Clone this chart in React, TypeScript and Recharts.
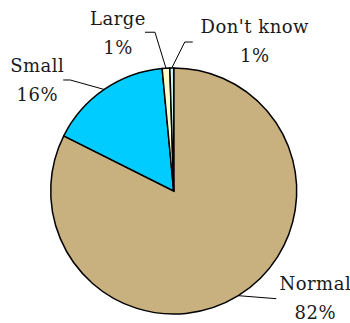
import React from "react"
import { PieChart, Pie, Cell } from "recharts"

const categories = ["Normal", "Small", "Large", "Don't know"]
const shares = [82.4, 16.1, 1.0, 0.5]
const percentLabels = ["82%", "16%", "1%", "1%"]
const colors = ["#C9B07F", "#00CCFF", "#FFFFCC", "#CCFFFF"]

// label placement relative to the slice's outer edge point (Excel-style callouts)
const labelLayout: Record<string, { elbow: [number, number]; end: [number, number]; tx: number; ty: number }> = {
  "Normal": { elbow: [38, 3], end: [38, 3], tx: 77, ty: -6 },
  "Small": { elbow: [-34, -9.5], end: [-41, -9.5], tx: -67, ty: -17.5 },
  "Large": { elbow: [-11, -36], end: [-21, -36], tx: -48, ty: -43 },
  "Don't know": { elbow: [13, -26], end: [21, -26], tx: 83, ty: -35 },
}

const data = categories.map((name, i) => ({ name, value: shares[i], pct: percentLabels[i] }))

const RADIAN = Math.PI / 180
const FONT = "DejaVu Serif"

const renderLabel = (props: any) => {
  const { cx, cy, midAngle, outerRadius, name, payload } = props
  const layout = labelLayout[name]
  if (!layout) return null
  const ex = cx + outerRadius * Math.cos(-midAngle * RADIAN)
  const ey = cy + outerRadius * Math.sin(-midAngle * RADIAN)
  const pts = [
    [ex, ey],
    [ex + layout.elbow[0], ey + layout.elbow[1]],
    [ex + layout.end[0], ey + layout.end[1]],
  ]
  const tx = ex + layout.tx
  const ty = ey + layout.ty
  return (
    <g>
      <polyline
        points={pts.map(p => p.join(",")).join(" ")}
        fill="none"
        stroke="#000"
        strokeWidth={1}
      />
      <text
        x={tx}
        y={ty}
        textAnchor="middle"
        fill="#1a1a1a"
        fontFamily={FONT}
        fontSize={18}
        letterSpacing={0.5}
        style={{ fontFamily: FONT }}
      >
        <tspan x={tx} dy={0}>{name}</tspan>
        <tspan x={tx} dy={29}>{payload.pct}</tspan>
      </text>
    </g>
  )
}

export default function App() {
  return (
    <div style={{ position: "absolute", left: 0, top: 0, width: 350, height: 323, background: "#fff" }}>
      <PieChart width={350} height={323} margin={{ top: 0, right: 0, bottom: 0, left: 0 }}>
        <Pie
          data={data}
          dataKey="value"
          nameKey="name"
          cx={173.7}
          cy={191}
          outerRadius={123}
          startAngle={90}
          endAngle={-270}
          stroke="#000"
          strokeWidth={1.5}
          label={renderLabel}
          labelLine={false}
          isAnimationActive={false}
        >
          {data.map((d, i) => (
            <Cell key={d.name} fill={colors[i]} />
          ))}
        </Pie>
      </PieChart>
    </div>
  )
}
